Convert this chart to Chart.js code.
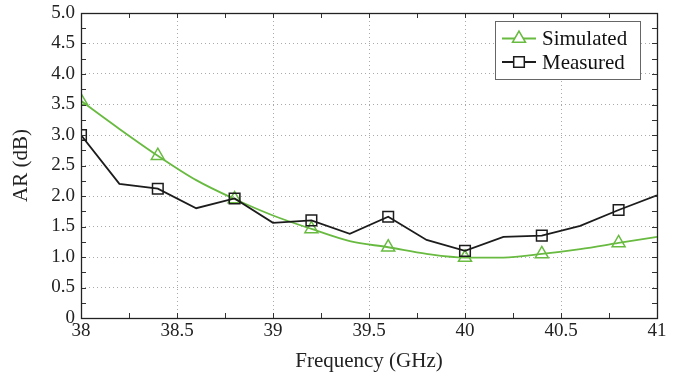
<!DOCTYPE html>
<html>
<head>
<meta charset="utf-8">
<script src="https://cdn.jsdelivr.net/npm/chart.js@4/dist/chart.umd.min.js"></script>
<style>
  html, body { margin: 0; padding: 0; background: #fff; }
  #wrap { width: 694px; height: 379px; position: relative; }
</style>
</head>
<body>
<div id="wrap"><canvas id="c" width="694" height="379"></canvas></div>
<script>
const freq = [38.0, 38.2, 38.4, 38.6, 38.8, 39.0, 39.2, 39.4, 39.6, 39.8, 40.0, 40.2, 40.4, 40.6, 40.8, 41.0];
const simulated = [3.56, 3.10, 2.66, 2.26, 1.95, 1.68, 1.46, 1.26, 1.16, 1.05, 0.99, 0.99, 1.05, 1.13, 1.23, 1.33];
const measured  = [3.00, 2.20, 2.12, 1.80, 1.96, 1.56, 1.60, 1.38, 1.66, 1.28, 1.10, 1.33, 1.35, 1.51, 1.77, 2.01];
const xTicks = [38, 38.5, 39, 39.5, 40, 40.5, 41];
const yTicks = [0, 0.5, 1.0, 1.5, 2.0, 2.5, 3.0, 3.5, 4.0, 4.5, 5.0];
const seriesNames = ['Simulated', 'Measured'];

const GREEN = 'rgb(104,186,64)';
const BLACK = 'rgb(28,28,28)';
const FONT = "'Liberation Serif', 'DejaVu Serif', serif";

const toXY = arr => freq.map((f, i) => ({x: f, y: arr[i]}));
const markEvery = ctx => (ctx.dataIndex % 2 === 0 ? 7.5 : 0);

const frameTicks = {
  id: 'frameTicks',
  afterDatasetsDraw(chart) {
    const {ctx, chartArea: a, scales: {x, y}} = chart;
    ctx.save();
    ctx.strokeStyle = '#333';
    ctx.lineWidth = 1;
    ctx.beginPath();
    for (let v = 38; v <= 41.0001; v += 0.25) {
      const px = Math.round(x.getPixelForValue(v)) + 0.5;
      ctx.moveTo(px, a.bottom); ctx.lineTo(px, a.bottom - 5);
      ctx.moveTo(px, a.top); ctx.lineTo(px, a.top + 5);
    }
    for (let v = 0; v <= 5.0001; v += 0.25) {
      const py = Math.round(y.getPixelForValue(v)) + 0.5;
      ctx.moveTo(a.left, py); ctx.lineTo(a.left + 5, py);
      ctx.moveTo(a.right, py); ctx.lineTo(a.right - 5, py);
    }
    ctx.stroke();
    ctx.lineWidth = 1.3;
    ctx.strokeStyle = '#222';
    ctx.strokeRect(Math.round(a.left) + 0.5, Math.round(a.top) + 0.5, Math.round(a.right - a.left), Math.round(a.bottom - a.top));
    ctx.restore();
  },
  afterDraw(chart) {
    const ctx = chart.ctx;
    const bx = 495, by = 21, bw = 145, bh = 58;
    ctx.save();
    ctx.fillStyle = '#fff';
    ctx.fillRect(bx, by, bw, bh);
    ctx.strokeStyle = '#666';
    ctx.lineWidth = 1;
    ctx.strokeRect(bx + 0.5, by + 0.5, bw, bh);
    const rows = [
      {label: chart.data.datasets[0].label, color: GREEN, style: 'triangle', y: 38.5},
      {label: chart.data.datasets[1].label, color: BLACK, style: 'rect', y: 62}
    ];
    rows.forEach(r => {
      ctx.strokeStyle = r.color;
      ctx.lineWidth = 1.8;
      ctx.beginPath();
      ctx.moveTo(502, r.y); ctx.lineTo(536, r.y);
      ctx.stroke();
      ctx.fillStyle = '#fff';
      ctx.lineWidth = 1.5;
      Chart.helpers.drawPoint(ctx, {pointStyle: r.style, radius: 7.5, borderWidth: 1.5, rotation: 0}, 519, r.y);
      ctx.fillStyle = '#111';
      ctx.font = '21px ' + FONT;
      ctx.textBaseline = 'middle';
      ctx.textAlign = 'left';
      ctx.fillText(r.label, 542, r.y + 1);
    });
    ctx.restore();
  }
};

new Chart(document.getElementById('c'), {
  type: 'scatter',
  data: {
    datasets: [
      {
        label: seriesNames[0],
        data: toXY(simulated),
        showLine: true,
        borderColor: GREEN,
        backgroundColor: 'rgba(255,255,255,0)',
        borderWidth: 1.8,
        cubicInterpolationMode: 'monotone',
        pointStyle: 'triangle',
        pointRadius: markEvery,
        pointBorderWidth: 1.5,
        pointBorderColor: GREEN,
        pointBackgroundColor: 'rgba(255,255,255,0)',
        order: 2
      },
      {
        label: seriesNames[1],
        data: toXY(measured),
        showLine: true,
        borderColor: BLACK,
        backgroundColor: 'rgba(255,255,255,0)',
        borderWidth: 1.8,
        tension: 0,
        pointStyle: 'rect',
        pointRadius: markEvery,
        pointBorderWidth: 1.5,
        pointBorderColor: BLACK,
        pointBackgroundColor: 'rgba(255,255,255,0)',
        order: 1
      }
    ]
  },
  options: {
    responsive: false,
    animation: false,
    events: [],
    layout: {padding: {top: 13, right: 37, left: 0, bottom: 0}},
    plugins: {legend: {display: false}, tooltip: {enabled: false}},
    scales: {
      x: {
        type: 'linear', min: 38, max: 41,
        afterBuildTicks: s => { s.ticks = xTicks.map(v => ({value: v})); },
        afterFit: s => { s.height = 61; s.paddingLeft = 0; s.paddingRight = 0; },
        ticks: {
          font: {family: FONT, size: 19}, color: '#222', padding: 2,
          maxRotation: 0, autoSkip: false,
          callback: v => String(v)
        },
        grid: {color: '#aaa', borderDash: [1, 3], lineWidth: 1, drawTicks: false},
        border: {display: false, dash: [1, 3]},
        title: {display: true, text: 'Frequency (GHz)', font: {family: FONT, size: 21}, color: '#222', padding: {top: 0, bottom: 5}}
      },
      y: {
        type: 'linear', min: 0, max: 5,
        afterBuildTicks: s => { s.ticks = yTicks.map(v => ({value: v})); },
        afterFit: s => { s.width = 81; s.paddingTop = 0; s.paddingBottom = 0; },
        ticks: {
          font: {family: FONT, size: 19}, color: '#222', padding: 6,
          callback: v => (v === 0 ? '0' : v.toFixed(1))
        },
        grid: {color: '#aaa', borderDash: [1, 3], lineWidth: 1, drawTicks: false},
        border: {display: false, dash: [1, 3]},
        title: {display: true, text: 'AR (dB)', font: {family: FONT, size: 21}, color: '#222', padding: {top: 9, bottom: 0}}
      }
    }
  },
  plugins: [frameTicks]
});
</script>
</body>
</html>
